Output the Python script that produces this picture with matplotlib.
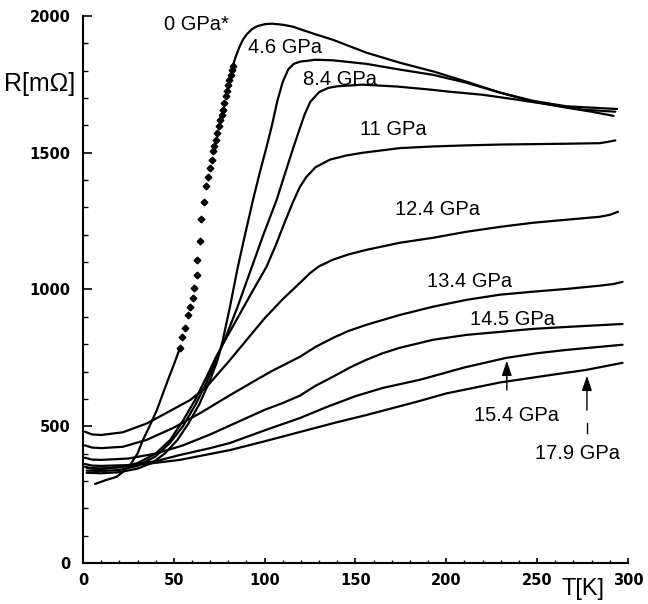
import numpy as np
import matplotlib
matplotlib.use('Agg')
import matplotlib.pyplot as plt
from matplotlib.ticker import MultipleLocator

# R(T) curves, T in K, R in mOhm
t_00a = [6.6, 13, 18.5, 22, 26, 30, 33, 37, 40.7, 44, 46.8, 50, 53.4]
r_00a = [289, 304, 315, 333, 359, 400, 450, 505, 560, 620, 670, 725, 787]
dots_t = [53.4, 54.5, 56.1, 57.8, 58.9, 60.5, 61.1, 62.7, 62.7, 64.4, 65.0, 66.6,
          67.7, 69.0, 69.9, 70.8, 71.7, 72.3, 73.2, 73.9, 74.9, 75.5, 76.3, 77.2,
          77.6, 78.5, 79.1, 80.0, 80.5, 81.3, 81.8, 82.4]
dots_r = [787, 827, 860, 907, 937, 969, 1006, 1054, 1109, 1178, 1259, 1321,
          1377, 1413, 1444, 1475, 1505, 1523, 1548, 1572, 1596, 1621, 1639, 1658,
          1682, 1706, 1724, 1749, 1767, 1786, 1801, 1816]
t_00b = [82.4, 84, 86, 88, 90, 93, 96, 100, 104, 110, 115.6, 119.4, 128, 137.6, 156,
         174.5, 193, 211, 229.5, 247.7, 266, 280, 292]
r_00b = [1816, 1850, 1885, 1913, 1932, 1952, 1963, 1970, 1972, 1968, 1961, 1952, 1933,
         1913, 1866, 1829, 1797, 1760, 1720, 1687, 1665, 1650, 1635]

t_46 = [2, 10, 20, 30, 38, 45, 52, 58, 64, 70, 74, 77, 81, 85, 89, 93.6, 97.4, 101,
        104, 107, 110, 113, 116, 119.4, 128, 137.6, 156, 174.5, 192.6, 211, 229.5,
        247.7, 266, 280, 294]
r_46 = [330, 328, 332, 345, 366, 400, 450, 510, 580, 670, 740, 816, 940, 1075, 1195,
        1328, 1430, 1520, 1600, 1690, 1760, 1805, 1825, 1833, 1840, 1838, 1825, 1804,
        1785, 1756, 1720, 1690, 1670, 1665, 1660]

t_84 = [2, 10, 20, 30, 40, 48, 55, 62, 68, 73, 78, 85, 92, 99, 106.6, 111, 115.6,
        119.4, 122, 125, 130, 135, 140, 154, 173, 191, 202, 220, 239, 257, 275, 293]
r_84 = [338, 336, 340, 355, 390, 440, 500, 580, 660, 740, 816, 935, 1065, 1195, 1328,
        1420, 1515, 1590, 1640, 1685, 1722, 1737, 1743, 1749, 1742, 1731, 1723, 1712,
        1694, 1676, 1658, 1650]

t_11 = [2, 10, 20, 30, 40, 48, 55, 62, 68, 73, 77, 85, 93, 101, 106, 111, 115.6,
        119.4, 123, 128, 136, 145, 154, 174.5, 192.6, 211, 229.5, 266, 284.5, 289, 293]
r_11 = [348, 346, 350, 365, 400, 450, 520, 600, 680, 750, 800, 895, 990, 1083, 1160,
        1245, 1320, 1375, 1412, 1447, 1475, 1490, 1500, 1517, 1523, 1527, 1530, 1533,
        1535, 1540, 1545]

t_124 = [1, 5, 10, 22, 35, 46, 59, 68, 80, 90, 100, 110, 119.4, 125, 130, 137.6, 146,
         156, 174.5, 192.6, 211, 229.5, 247.7, 266, 284.5, 290, 294.5]
r_124 = [480, 470, 468, 478, 510, 549, 596, 644, 735, 815, 895, 965, 1024, 1060, 1085,
         1109, 1128, 1145, 1171, 1189, 1211, 1229, 1244, 1255, 1266, 1273, 1284]

t_134 = [1, 5, 10, 22, 35, 50, 65, 80, 95, 104, 119.4, 128, 137.6, 146, 156, 174.5,
         192.6, 211, 229.5, 247.7, 266, 284.5, 292, 297]
r_134 = [430, 422, 420, 425, 450, 495, 550, 610, 668, 702, 754, 790, 823, 848, 871,
         907, 937, 962, 981, 992, 1002, 1014, 1020, 1028]

t_145 = [1, 5, 10, 25, 40, 55, 70, 85, 100, 110, 119.4, 128, 137.6, 147, 156, 165,
         174.5, 192.6, 211, 229.5, 247.7, 266, 297]
r_145 = [385, 378, 377, 382, 400, 430, 470, 515, 560, 585, 612, 648, 681, 715, 743,
         767, 787, 816, 834, 845, 856, 863, 874]

t_154 = [1, 5, 10, 25, 40, 53.4, 70, 81, 100, 119.4, 134, 150, 165, 185.5, 210, 233,
         250, 266, 297]
r_154 = [362, 356, 355, 358, 372, 395, 420, 439, 485, 530, 570, 610, 640, 670, 715,
         750, 767, 779, 798]

t_179 = [1, 5, 10, 26, 53.4, 81, 100, 119.4, 140, 156, 184, 200, 229.5, 255, 277, 297]
r_179 = [352, 345, 343, 355, 377, 413, 445, 479, 515, 541, 590, 620, 660, 685, 706, 732]

curves = [(t_00a, r_00a), (t_00b, r_00b), (t_46, r_46), (t_84, r_84), (t_11, r_11),
          (t_124, r_124), (t_134, r_134), (t_145, r_145), (t_154, r_154), (t_179, r_179)]

labels = ['0 GPa*', '4.6 GPa', '8.4 GPa', '11 GPa', '12.4 GPa', '13.4 GPa',
          '14.5 GPa', '15.4 GPa', '17.9 GPa']
label_t = [62.7, 111.2, 141.4, 170.6, 195.4, 213, 236.7, 238.5, 272.4]
label_r = [1968, 1884, 1767, 1584, 1292, 1028, 889, 541, 402]

fig = plt.figure(figsize=(6.48, 6.04), dpi=100)
ax = fig.add_axes([0.1281, 0.0679, 0.8410, 0.9056])

for t, r in curves:
    ax.plot(t, r, color='black', lw=1.6, solid_capstyle='round', solid_joinstyle='round')
ax.plot(dots_t, dots_r, 'D', color='black', ms=3.4, ls='none')

for txt, t, r in zip(labels, label_t, label_r):
    ax.text(t, r, txt, fontsize=14.5, family='Liberation Sans', ha='center', va='center')

# arrows for the two lowest curves
arr = dict(arrowstyle='-|>,head_width=0.3,head_length=0.9', color='black', lw=1.0)
ax.annotate('', xy=(233.3, 750), xytext=(233.3, 622), arrowprops=arr)
ax.annotate('', xy=(277.4, 695), xytext=(277.4, 549), arrowprops=arr)
ax.plot([277.4, 277.4], [476, 512], color='black', lw=1.0)

ax.set_xlim(0, 300)
ax.set_ylim(0, 2000)
ax.spines['top'].set_visible(False)
ax.spines['right'].set_visible(False)
ax.spines['left'].set_linewidth(1.5)
ax.spines['bottom'].set_linewidth(1.5)

ax.xaxis.set_major_locator(MultipleLocator(50))
ax.xaxis.set_minor_locator(MultipleLocator(10))
ax.yaxis.set_major_locator(MultipleLocator(500))
ax.yaxis.set_minor_locator(MultipleLocator(100))
ax.tick_params(axis='y', which='major', direction='in', length=6.5, width=1.2, pad=9)
ax.tick_params(axis='y', which='minor', direction='in', length=3.5, width=1.0)
ax.tick_params(axis='x', which='major', direction='in', length=3.8, width=1.2, pad=7)
ax.tick_params(axis='x', which='minor', direction='in', length=2.2, width=1.0)
for lab in ax.get_xticklabels() + ax.get_yticklabels():
    lab.set_fontweight('bold')
    lab.set_fontsize(10.5)
ax.yaxis.get_major_ticks()[-1].tick1line.set_visible(False)

ax.text(-0.015, 0.875, 'R[m\u03a9]', transform=ax.transAxes, fontsize=18,
        family='Liberation Sans', ha='right', va='center')
ax.text(0.917, -0.048, 'T[K]', transform=ax.transAxes, fontsize=17,
        family='Liberation Sans', ha='center', va='center')

fig.savefig('out.png', dpi=100)
